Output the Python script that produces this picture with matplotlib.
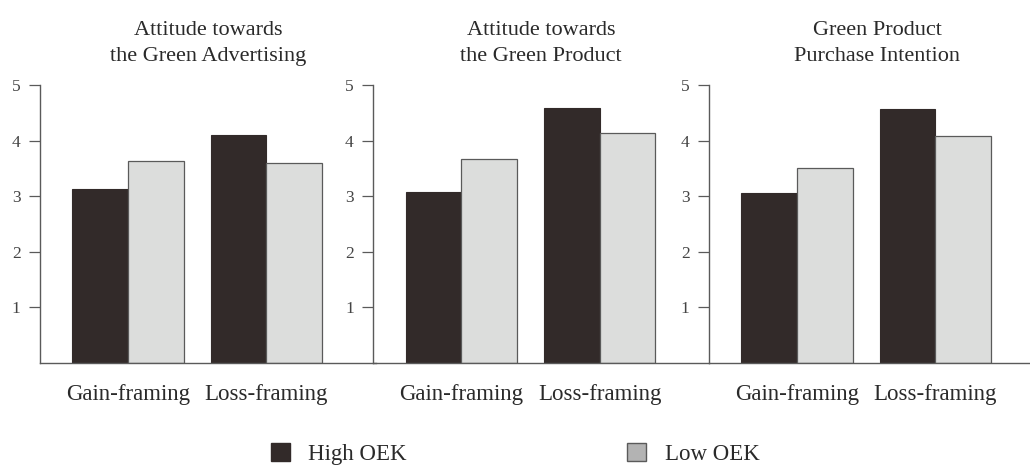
import numpy as np
import matplotlib.pyplot as plt
from matplotlib.patches import Patch

# data
titles = ["Attitude towards\nthe Green Advertising",
          "Attitude towards\nthe Green Product",
          "Green Product\nPurchase Intention"]
framings = ["Gain-framing", "Loss-framing"]
high_oek = [[3.13, 4.10], [3.08, 4.59], [3.06, 4.57]]
low_oek = [[3.63, 3.59], [3.67, 4.13], [3.51, 4.08]]

DARK = "#322a29"
LIGHT = "#dcdddc"
LEGEND_LIGHT = "#b3b3b3"
EDGE = "#5a5a5a"
TEXT = "#2a2a2a"

plt.rcParams["font.family"] = ["Liberation Serif", "DejaVu Serif"]

fig = plt.figure(figsize=(10.3, 4.68), dpi=100)

W, H = 1030, 468
lefts = [40, 373.3, 709]
ax_w = 336
bottom_px = 362.7
top_px = 85

x = np.arange(len(framings))
bw = 0.402

for i in range(3):
    ax = fig.add_axes([lefts[i] / W, (H - bottom_px) / H, ax_w / W, (bottom_px - top_px) / H])
    ax.patch.set_alpha(0)
    ax.bar(x - bw / 2, high_oek[i], bw, color=DARK, edgecolor=DARK, linewidth=0.8, zorder=2)
    ax.bar(x + bw / 2, low_oek[i], bw, color=LIGHT, edgecolor=EDGE, linewidth=0.9, zorder=2)
    ax.set_xlim(-0.636, -0.636 + ax_w / 138.3)
    ax.set_ylim(0, 5)
    ax.set_yticks([1, 2, 3, 4, 5])
    ax.set_xticks(x)
    ax.set_xticklabels(framings)
    ax.tick_params(axis="y", length=8, width=0.9, color=EDGE, pad=6, labelsize=12.5, labelcolor="#444444")
    ax.tick_params(axis="x", length=0, pad=15, labelsize=16.5, labelcolor=TEXT)
    for s in ["top", "right"]:
        ax.spines[s].set_visible(False)
    for s in ["left", "bottom"]:
        ax.spines[s].set_color(EDGE)
        ax.spines[s].set_linewidth(1.0)
    ax.set_title(titles[i], fontsize=16, color=TEXT, pad=17.5, linespacing=1.48)

handles = [Patch(facecolor=DARK, edgecolor=DARK), Patch(facecolor=LEGEND_LIGHT, edgecolor=EDGE)]
fig.legend(handles, ["High OEK", "Low OEK"], loc="center", bbox_to_anchor=(515 / W, 1 - 454 / H),
           ncol=2, frameon=False, fontsize=16.5, handlelength=0.85, handleheight=0.85,
           columnspacing=9.6, handletextpad=0.8, labelcolor=TEXT)

fig.savefig("out.png", dpi=100)
